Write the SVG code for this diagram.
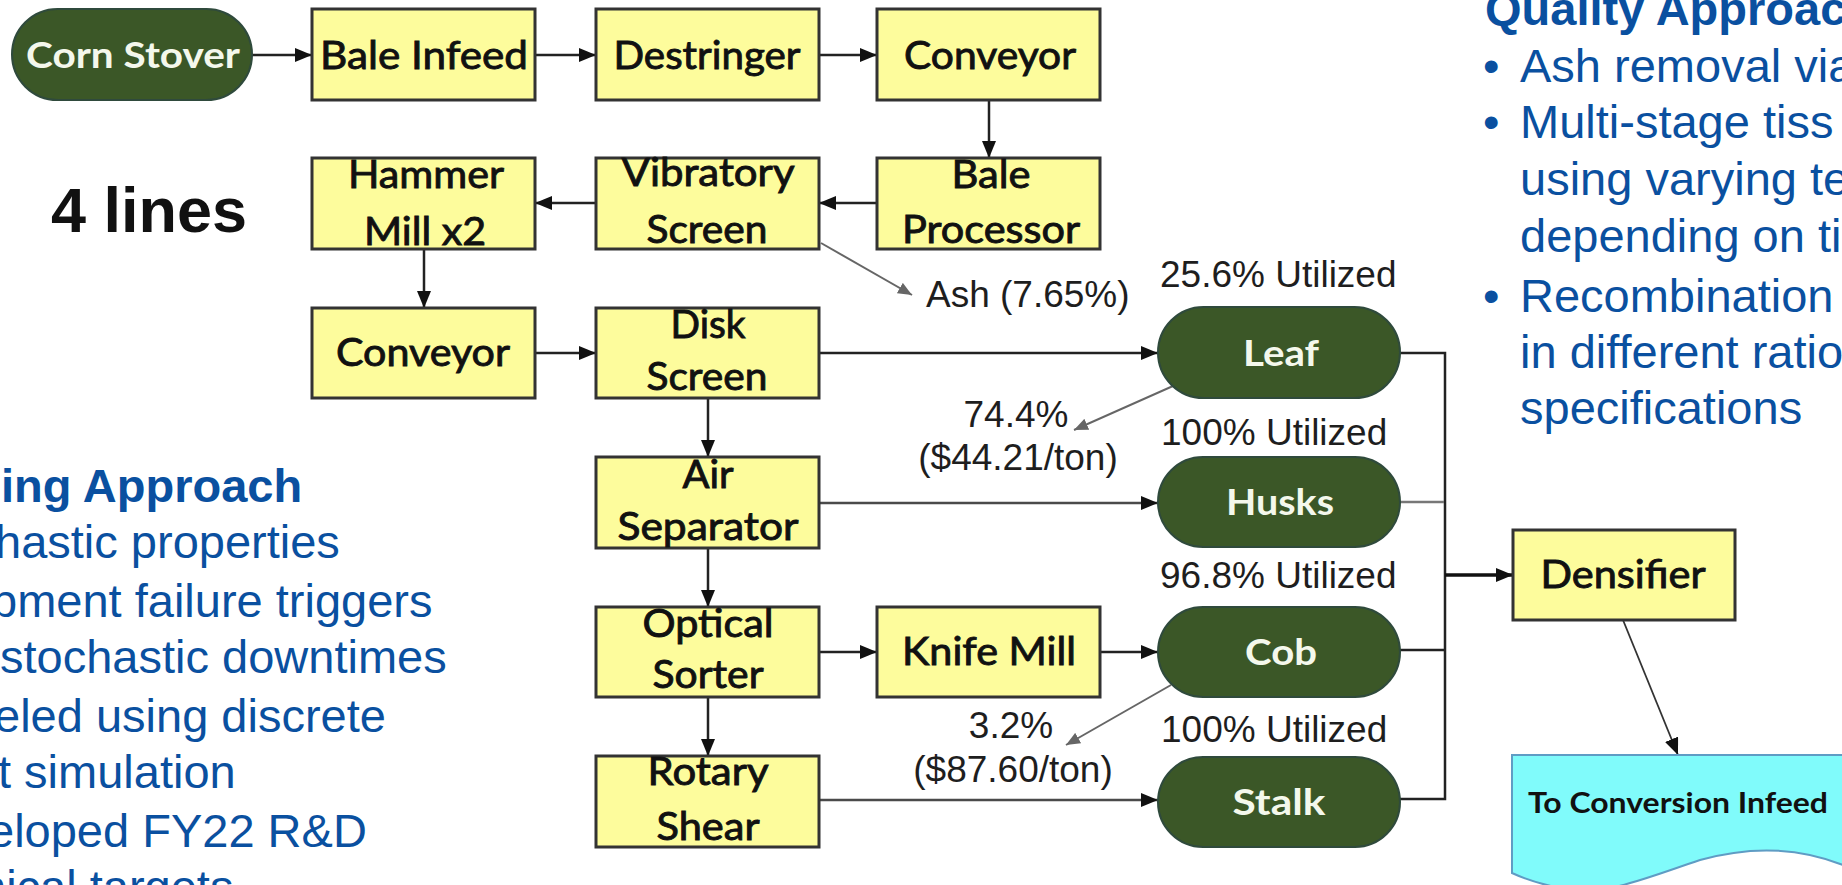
<svg xmlns="http://www.w3.org/2000/svg" width="1842" height="885" viewBox="0 0 1842 885">
  <style>
    .box { fill: #fdfc9c; stroke: #333; stroke-width: 3; }
    .pill { fill: #3b5727; stroke: #2f4a3c; stroke-width: 2; }
    .lbl { font-family: Lato, "Liberation Sans", sans-serif; font-size: 39px; fill: #111; stroke: #111; stroke-width: 0.9; text-anchor: middle; }
    .plbl { font-family: Lato, "Liberation Sans", sans-serif; font-weight: bold; font-size: 37px; fill: #f4f8ec; text-anchor: middle; }
    .note { font-family: "Liberation Sans", Arial, sans-serif; font-size: 37px; fill: #1e1e1e; }
    .blue { font-family: "Liberation Sans", Arial, sans-serif; font-size: 47px; fill: #0a50a0; }
    .blueh { font-family: "Liberation Sans", Arial, sans-serif; font-size: 47px; font-weight: bold; fill: #0a50a0; }
    .wire { fill: none; stroke: #222; stroke-width: 2.5; }
    .wire2 { fill: none; stroke: #4a4a4a; stroke-width: 2.5; }
    .thin { fill: none; stroke: #777; stroke-width: 2.5; }
    .side { fill: none; stroke: #666; stroke-width: 2; }
  </style>
  <defs>
    <marker id="ah" markerUnits="userSpaceOnUse" markerWidth="17" markerHeight="14" refX="17" refY="7" orient="auto">
      <path d="M0,0 L17,7 L0,14 z" fill="#111"/>
    </marker>
    <marker id="ahg" markerUnits="userSpaceOnUse" markerWidth="14" markerHeight="12" refX="14" refY="6" orient="auto">
      <path d="M0,0 L14,6 L0,12 z" fill="#666"/>
    </marker>
  </defs>

  <rect width="1842" height="885" fill="#fff"/>

  <!-- connectors -->
  <g id="connectors">
    <line class="wire" x1="252" y1="55" x2="312" y2="55" marker-end="url(#ah)"/>
    <line class="wire" x1="535" y1="55" x2="596" y2="55" marker-end="url(#ah)"/>
    <line class="wire" x1="819" y1="55" x2="877" y2="55" marker-end="url(#ah)"/>
    <line class="wire" x1="989" y1="100" x2="989" y2="158" marker-end="url(#ah)"/>
    <line class="wire" x1="877" y1="203" x2="819" y2="203" marker-end="url(#ah)"/>
    <line class="wire" x1="596" y1="203" x2="535" y2="203" marker-end="url(#ah)"/>
    <line class="wire" x1="424" y1="249" x2="424" y2="308" marker-end="url(#ah)"/>
    <line class="wire" x1="535" y1="353" x2="596" y2="353" marker-end="url(#ah)"/>
    <line class="wire" x1="819" y1="353" x2="1158" y2="353" marker-end="url(#ah)"/>
    <line class="wire" x1="708" y1="398" x2="708" y2="457" marker-end="url(#ah)"/>
    <line class="wire2" x1="819" y1="503" x2="1158" y2="503" marker-end="url(#ah)"/>
    <line class="wire" x1="708" y1="548" x2="708" y2="607" marker-end="url(#ah)"/>
    <line class="wire" x1="819" y1="652" x2="877" y2="652" marker-end="url(#ah)"/>
    <line class="wire" x1="1100" y1="652" x2="1158" y2="652" marker-end="url(#ah)"/>
    <line class="wire" x1="708" y1="697" x2="708" y2="756" marker-end="url(#ah)"/>
    <line class="wire2" x1="819" y1="800" x2="1158" y2="800" marker-end="url(#ah)"/>
    <!-- side streams -->
    <line class="side" x1="821" y1="243" x2="912" y2="295" marker-end="url(#ahg)"/>
    <line class="side" x1="1173" y1="386" x2="1074" y2="430" marker-end="url(#ahg)"/>
    <line class="side" x1="1171" y1="685" x2="1066" y2="745" marker-end="url(#ahg)"/>
    <!-- recombination bracket -->
    <polyline class="wire" points="1400,353 1445,353 1445,799 1400,799"/>
    <line class="thin" x1="1400" y1="502" x2="1444" y2="502"/>
    <line class="wire" x1="1400" y1="650" x2="1444" y2="650"/>
    <line fill="none" stroke="#111" stroke-width="3.5" x1="1445" y1="575" x2="1513" y2="575" marker-end="url(#ah)"/>
    <line fill="none" stroke="#333" stroke-width="1.8" x1="1623" y1="620" x2="1678" y2="755" marker-end="url(#ah)"/>
  </g>

  <!-- feedstock source -->
  <g id="corn-stover">
    <rect class="pill" x="12" y="9" width="240" height="91" rx="45.5"/>
    <text class="plbl" x="133" y="68" textLength="214" lengthAdjust="spacingAndGlyphs">Corn Stover</text>
  </g>

  <g id="bale-infeed">
    <rect class="box" x="312" y="9" width="223" height="91"/>
    <text class="lbl" x="424" y="69" textLength="208" lengthAdjust="spacingAndGlyphs">Bale Infeed</text>
  </g>
  <g id="destringer">
    <rect class="box" x="596" y="9" width="223" height="91"/>
    <text class="lbl" x="707" y="69" textLength="187" lengthAdjust="spacingAndGlyphs">Destringer</text>
  </g>
  <g id="conveyor-1">
    <rect class="box" x="877" y="9" width="223" height="91"/>
    <text class="lbl" x="990" y="69" textLength="172" lengthAdjust="spacingAndGlyphs">Conveyor</text>
  </g>
  <g id="bale-processor">
    <rect class="box" x="877" y="158" width="223" height="91"/>
    <text class="lbl" x="991" y="188" textLength="79" lengthAdjust="spacingAndGlyphs">Bale</text>
    <text class="lbl" x="991" y="243" textLength="178" lengthAdjust="spacingAndGlyphs">Processor</text>
  </g>
  <g id="vibratory-screen">
    <rect class="box" x="596" y="158" width="223" height="91"/>
    <text class="lbl" x="708" y="186" textLength="173" lengthAdjust="spacingAndGlyphs">Vibratory</text>
    <text class="lbl" x="707" y="243" textLength="121" lengthAdjust="spacingAndGlyphs">Screen</text>
  </g>
  <g id="hammer-mill">
    <rect class="box" x="312" y="158" width="223" height="91"/>
    <text class="lbl" x="426" y="188" textLength="156" lengthAdjust="spacingAndGlyphs">Hammer</text>
    <text class="lbl" x="425" y="245" textLength="122" lengthAdjust="spacingAndGlyphs">Mill x2</text>
  </g>
  <g id="conveyor-2">
    <rect class="box" x="312" y="308" width="223" height="90"/>
    <text class="lbl" x="423" y="366" textLength="174" lengthAdjust="spacingAndGlyphs">Conveyor</text>
  </g>
  <g id="disk-screen">
    <rect class="box" x="596" y="308" width="223" height="90"/>
    <text class="lbl" x="708" y="338" textLength="75" lengthAdjust="spacingAndGlyphs">Disk</text>
    <text class="lbl" x="707" y="390" textLength="121" lengthAdjust="spacingAndGlyphs">Screen</text>
  </g>
  <g id="air-separator">
    <rect class="box" x="596" y="457" width="223" height="91"/>
    <text class="lbl" x="708" y="488" textLength="51" lengthAdjust="spacingAndGlyphs">Air</text>
    <text class="lbl" x="708" y="540" textLength="181" lengthAdjust="spacingAndGlyphs">Separator</text>
  </g>
  <g id="optical-sorter">
    <rect class="box" x="596" y="607" width="223" height="90"/>
    <text class="lbl" x="708" y="637" textLength="131" lengthAdjust="spacingAndGlyphs">Optical</text>
    <text class="lbl" x="708" y="688" textLength="111" lengthAdjust="spacingAndGlyphs">Sorter</text>
  </g>
  <g id="knife-mill">
    <rect class="box" x="877" y="607" width="223" height="90"/>
    <text class="lbl" x="989" y="665" textLength="174" lengthAdjust="spacingAndGlyphs">Knife Mill</text>
  </g>
  <g id="rotary-shear">
    <rect class="box" x="596" y="756" width="223" height="91"/>
    <text class="lbl" x="708" y="785" textLength="121" lengthAdjust="spacingAndGlyphs">Rotary</text>
    <text class="lbl" x="708" y="840" textLength="103" lengthAdjust="spacingAndGlyphs">Shear</text>
  </g>

  <!-- separated fractions -->
  <g id="leaf">
    <rect class="pill" x="1158" y="307" width="242" height="91" rx="45.5"/>
    <text class="plbl" x="1281" y="366" textLength="76" lengthAdjust="spacingAndGlyphs">Leaf</text>
  </g>
  <g id="husks">
    <rect class="pill" x="1158" y="457" width="242" height="90" rx="45"/>
    <text class="plbl" x="1280" y="515" textLength="108" lengthAdjust="spacingAndGlyphs">Husks</text>
  </g>
  <g id="cob">
    <rect class="pill" x="1158" y="607" width="242" height="90" rx="45"/>
    <text class="plbl" x="1281" y="665" textLength="72" lengthAdjust="spacingAndGlyphs">Cob</text>
  </g>
  <g id="stalk">
    <rect class="pill" x="1158" y="757" width="242" height="90" rx="45"/>
    <text class="plbl" x="1279" y="815" textLength="93" lengthAdjust="spacingAndGlyphs">Stalk</text>
  </g>

  <g id="densifier">
    <rect class="box" x="1513" y="530" width="222" height="90"/>
    <text class="lbl" x="1623" y="588" textLength="165" lengthAdjust="spacingAndGlyphs">Densifier</text>
  </g>
  <g id="conversion-infeed">
    <path d="M1512,755 H1850 V868 C1800,846 1750,846 1700,860 C1640,880 1600,898 1560,888 C1540,884 1525,879 1512,873 Z" fill="#80fbfb" stroke="#5f9cc4" stroke-width="2"/>
    <text x="1678" y="813" font-family="Lato, 'Liberation Sans', sans-serif" font-weight="bold" font-size="29" fill="#111" text-anchor="middle" textLength="300" lengthAdjust="spacingAndGlyphs">To Conversion Infeed</text>
  </g>

  <!-- flow annotations -->
  <g id="annotations">
    <text x="51" y="232" font-family="'Liberation Sans', Arial, sans-serif" font-weight="bold" font-size="63" fill="#111" textLength="196" lengthAdjust="spacingAndGlyphs">4 lines</text>
    <text class="note" x="926" y="307">Ash (7.65%)</text>
    <text class="note" x="1160" y="287">25.6% Utilized</text>
    <text class="note" x="1016" y="427" text-anchor="middle">74.4%</text>
    <text class="note" x="1018" y="470" text-anchor="middle">($44.21/ton)</text>
    <text class="note" x="1161" y="445">100% Utilized</text>
    <text class="note" x="1160" y="588">96.8% Utilized</text>
    <text class="note" x="1011" y="738" text-anchor="middle">3.2%</text>
    <text class="note" x="1013" y="782" text-anchor="middle">($87.60/ton)</text>
    <text class="note" x="1161" y="742">100% Utilized</text>
  </g>

  <!-- left text panel -->
  <g id="modeling-text">
    <text class="blueh" x="1" y="502">ing Approach</text>
    <text class="blue" x="-5" y="558">hastic properties</text>
    <text class="blue" x="-9" y="617">pment failure triggers</text>
    <text class="blue" x="0" y="673">stochastic downtimes</text>
    <text class="blue" x="-6" y="732">eled using discrete</text>
    <text class="blue" x="-2" y="788">t simulation</text>
    <text class="blue" x="-12" y="847">eloped FY22 R&amp;D</text>
    <text class="blue" x="-20" y="903">nical targets</text>
  </g>

  <!-- right text panel -->
  <g id="quality-text">
    <text class="blueh" x="1485" y="25">Quality Approac</text>
    <text class="blue" x="1483" y="82">•</text>
    <text class="blue" x="1520" y="82">Ash removal via</text>
    <text class="blue" x="1483" y="138">•</text>
    <text class="blue" x="1520" y="138">Multi-stage tiss</text>
    <text class="blue" x="1520" y="195">using varying te</text>
    <text class="blue" x="1520" y="252">depending on ti</text>
    <text class="blue" x="1483" y="312">•</text>
    <text class="blue" x="1520" y="312">Recombination</text>
    <text class="blue" x="1520" y="368">in different ratio</text>
    <text class="blue" x="1520" y="424">specifications</text>
  </g>
</svg>
